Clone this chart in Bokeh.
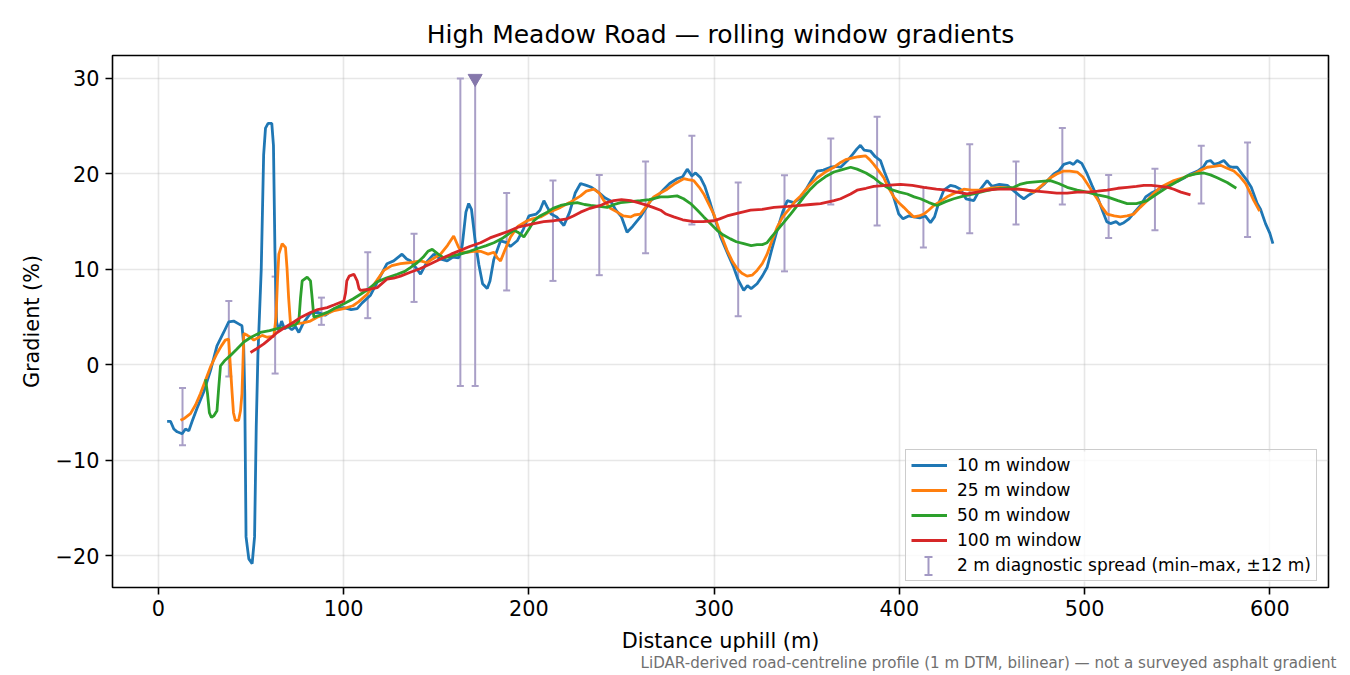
from bokeh.plotting import figure
from bokeh.models import (Range1d, FixedTicker, CustomJSTickFormatter, Legend, LegendItem,
                          Title, Whisker, TeeHead, ColumnDataSource, BoxAnnotation)
from bokeh.embed import file_html
from bokeh.resources import INLINE

FONT = "DejaVu Sans"

# (distance m, gradient %)
win10 = [(4.7, -5.9), (6.5, -5.9), (8.3, -6.7), (10.1, -7.0), (12.8, -7.2), (14.6, -6.7), (16.4, -6.9),
         (18.2, -5.9), (20.9, -4.5), (24.5, -2.8), (28.1, -0.6), (31.6, 2.0), (35.2, 3.4), (37.9, 4.5),
         (40.6, 4.6), (43.3, 4.3), (45.1, 4.1), (46.0, 2.2), (46.6, -3.0), (47.3, -18.0), (48.8, -20.3),
         (50.6, -20.8), (51.9, -18.0), (52.8, -6.5), (53.7, 1.0), (55.5, 10.0), (56.8, 22.0), (57.8, 24.8),
         (59.2, 25.3), (61.2, 25.3), (62.1, 23.0), (62.9, 12.0), (63.8, 4.5), (65.0, 3.6), (66.5, 4.6),
         (68.0, 3.8), (70.0, 4.0), (72.0, 3.7), (74.0, 4.0), (75.8, 3.4), (78.0, 4.3), (82.0, 5.4),
         (86.0, 5.5), (90.0, 5.2), (95.0, 5.9), (100.0, 6.0), (104.0, 5.8), (107.3, 5.9), (110.0, 6.5),
         (114.5, 7.3), (119.0, 9.0), (123.4, 10.6), (127.0, 10.9), (131.5, 11.6), (134.0, 11.1),
         (136.0, 10.9), (139.0, 10.2), (141.5, 9.5), (145.0, 10.8), (148.7, 11.6), (152.0, 11.1),
         (155.9, 10.9), (159.0, 11.3), (162.1, 11.2), (164.0, 12.5), (166.0, 16.0), (167.5, 16.9),
         (169.0, 16.3), (171.0, 13.0), (173.0, 10.5), (175.0, 8.5), (177.5, 8.0), (179.0, 8.8),
         (181.0, 11.0), (184.7, 13.0), (188.0, 12.8), (190.0, 12.4), (193.7, 13.0), (197.0, 14.2),
         (200.0, 15.6), (204.0, 15.8), (206.0, 16.2), (208.1, 17.2), (210.0, 16.5), (212.0, 15.8),
         (215.0, 15.5), (218.9, 14.6), (222.0, 16.0), (225.0, 18.0), (227.9, 19.0), (231.0, 18.8),
         (233.8, 18.6), (236.0, 18.3), (238.7, 17.9), (241.0, 17.5), (244.0, 17.2), (247.0, 16.2),
         (250.0, 15.5), (253.0, 13.9), (256.0, 14.5), (260.2, 15.5), (265.7, 17.2), (269.0, 17.6),
         (272.9, 18.4), (276.0, 19.0), (280.0, 19.5), (283.0, 19.7), (285.5, 20.5), (288.0, 19.8),
         (290.0, 20.1), (292.7, 19.6), (295.0, 18.7), (298.0, 16.9), (303.5, 13.4), (307.0, 11.8),
         (310.6, 10.2), (313.0, 8.9), (316.0, 7.8), (318.0, 8.3), (320.0, 8.0), (323.2, 8.5),
         (326.0, 9.3), (328.6, 10.2), (331.0, 12.0), (334.0, 14.1), (337.0, 16.0), (339.5, 17.2),
         (343.0, 17.0), (346.6, 17.5), (350.0, 18.5), (353.0, 19.5), (355.7, 20.3), (359.0, 20.4),
         (362.9, 20.7), (366.0, 20.8), (368.3, 20.7), (372.0, 21.4), (375.0, 22.1), (377.0, 22.6),
         (379.0, 23.0), (381.0, 22.5), (384.4, 22.4), (387.0, 21.8), (389.8, 21.4), (392.0, 20.2),
         (395.2, 18.6), (397.5, 17.2), (399.7, 15.8), (402.0, 15.3), (405.0, 15.6), (407.8, 15.5),
         (411.0, 15.4), (414.0, 15.6), (416.8, 14.9), (419.0, 15.5), (421.0, 16.8), (424.0, 18.3),
         (427.6, 18.8), (430.0, 18.7), (433.0, 18.4), (436.0, 17.4), (440.2, 17.2), (443.0, 18.2),
         (447.4, 19.3), (450.0, 18.7), (454.0, 18.9), (458.3, 18.8), (462.0, 18.2), (465.0, 17.7),
         (467.2, 17.4), (470.0, 17.8), (474.4, 18.3), (478.0, 18.9), (483.4, 20.0), (486.0, 20.3),
         (488.8, 21.0), (492.0, 21.2), (494.0, 21.0), (496.0, 21.4), (498.5, 21.1), (501.4, 20.0),
         (504.0, 18.8), (507.7, 17.2), (510.0, 16.0), (512.0, 15.0), (514.0, 14.8), (517.0, 15.0),
         (519.0, 14.7), (521.2, 14.9), (524.0, 15.3), (527.0, 16.0), (530.2, 16.7), (533.0, 17.6),
         (536.0, 18.0), (539.2, 18.3), (542.0, 18.6), (545.0, 18.8), (548.2, 19.1), (551.0, 19.3),
         (554.0, 19.6), (557.2, 20.0), (561.0, 20.3), (564.0, 20.7), (566.0, 21.3), (568.0, 21.4),
         (570.0, 21.0), (572.0, 21.1), (575.2, 21.4), (578.0, 20.8), (580.0, 20.7), (582.4, 20.7),
         (585.0, 20.0), (587.8, 19.3), (590.0, 18.6), (593.2, 16.9), (595.0, 16.3), (597.7, 14.8),
         (600.0, 13.8), (601.7, 12.7)]

win25 = [(11.9, -5.8), (14.0, -5.6), (17.3, -5.1), (20.0, -4.2), (22.7, -3.0), (25.0, -1.8), (28.1, -0.2),
         (31.6, 1.2), (34.0, 2.0), (36.1, 2.6), (37.9, 2.7), (38.8, 0.0), (39.8, -3.0), (40.5, -5.0),
         (41.5, -5.8), (43.3, -5.8), (44.3, -4.8), (45.1, -3.0), (45.6, 0.0), (46.1, 3.3), (48.0, 3.1),
         (49.7, 2.9), (51.5, 2.6), (53.3, 2.8), (56.0, 3.1), (58.7, 2.9), (62.3, 3.0), (63.5, 5.0),
         (64.3, 9.0), (65.0, 11.6), (66.8, 12.7), (68.6, 12.3), (69.4, 10.2), (70.3, 7.0), (71.3, 4.3),
         (74.0, 4.3), (78.0, 4.4), (82.0, 4.6), (85.7, 5.0), (90.0, 5.3), (95.0, 5.7), (100.0, 5.9),
         (105.0, 6.2), (108.0, 6.6), (112.7, 7.4), (117.0, 8.6), (121.7, 9.9), (126.0, 10.4),
         (130.7, 10.6), (135.0, 10.7), (141.5, 10.9), (145.0, 10.7), (148.0, 11.1), (152.3, 11.6),
         (156.0, 12.5), (159.4, 13.5), (162.1, 12.3), (164.0, 11.8), (166.6, 11.8), (170.0, 11.9),
         (173.9, 11.9), (178.0, 11.6), (181.1, 11.8), (183.0, 11.2), (184.7, 10.9), (187.0, 12.0),
         (190.1, 13.4), (194.0, 14.5), (199.1, 15.1), (202.0, 15.3), (206.3, 15.5), (211.0, 16.0),
         (217.1, 16.5), (222.0, 17.0), (227.9, 17.7), (231.0, 18.2), (235.1, 18.4), (238.0, 18.0),
         (240.5, 17.2), (244.0, 16.4), (247.7, 16.0), (251.0, 15.6), (254.9, 15.5), (257.0, 15.7),
         (260.2, 15.8), (263.0, 16.5), (267.4, 17.6), (271.0, 18.0), (274.7, 18.4), (279.0, 19.0),
         (283.6, 19.5), (286.0, 19.4), (289.0, 19.3), (292.0, 18.6), (294.4, 17.9), (297.0, 16.9),
         (299.8, 15.8), (303.0, 14.0), (307.0, 12.0), (310.0, 10.8), (312.4, 10.1), (315.0, 9.6),
         (317.8, 9.3), (320.5, 9.4), (323.2, 9.9), (326.0, 10.6), (328.6, 11.6), (331.0, 12.9),
         (334.0, 14.4), (337.0, 15.5), (341.3, 16.5), (344.0, 17.2), (346.7, 17.7), (351.0, 18.7),
         (355.7, 19.6), (360.0, 20.2), (364.7, 20.7), (368.3, 21.2), (371.0, 21.5), (375.4, 21.7),
         (378.0, 21.8), (381.7, 21.9), (384.0, 21.5), (386.2, 21.0), (389.0, 20.3), (391.6, 19.6),
         (394.0, 18.6), (397.0, 17.6), (399.6, 17.0), (402.4, 16.5), (405.0, 16.0), (407.8, 15.5),
         (410.5, 15.6), (413.2, 15.8), (415.8, 16.2), (418.6, 16.7), (422.0, 17.1), (425.8, 17.6),
         (430.0, 18.0), (434.8, 18.4), (439.0, 18.3), (443.8, 18.3), (449.0, 18.5), (454.6, 18.6),
         (460.0, 18.5), (465.4, 18.4), (469.0, 18.3), (472.6, 18.1), (477.0, 18.8), (481.6, 19.6),
         (485.0, 20.0), (488.8, 20.3), (492.0, 20.3), (496.0, 20.2), (499.0, 19.7), (501.4, 19.0),
         (504.0, 18.2), (506.8, 17.4), (509.5, 16.5), (512.2, 15.8), (516.0, 15.6), (519.4, 15.5),
         (523.0, 15.6), (526.6, 15.8), (530.0, 16.5), (533.8, 17.2), (537.0, 17.9), (541.0, 18.6),
         (545.0, 19.0), (548.2, 19.3), (553.0, 19.6), (559.0, 20.0), (563.0, 20.4), (566.2, 20.7),
         (570.0, 20.8), (573.4, 20.9), (577.0, 20.6), (580.6, 20.3), (584.0, 19.7), (586.9, 19.0),
         (589.0, 18.2), (591.4, 17.2), (594.5, 16.1)]

win50 = [(25.4, -1.5), (26.5, -3.0), (27.5, -5.0), (28.6, -5.5), (30.0, -5.3), (31.6, -4.8), (32.5, -2.5),
         (33.5, -0.1), (36.0, 0.5), (38.9, 1.0), (42.0, 1.6), (46.1, 2.4), (50.0, 2.9), (55.1, 3.4),
         (60.0, 3.6), (64.1, 3.8), (68.0, 3.9), (71.3, 4.1), (74.0, 4.2), (75.8, 4.6), (76.7, 7.0),
         (77.6, 8.8), (80.3, 9.2), (82.1, 8.8), (83.0, 7.0), (83.9, 5.0), (87.0, 5.2), (91.1, 5.5),
         (95.0, 5.9), (100.1, 6.4), (105.0, 6.9), (109.1, 7.4), (113.0, 7.9), (118.1, 8.7), (123.0, 9.1),
         (128.9, 9.5), (133.0, 9.8), (136.0, 10.2), (139.7, 10.7), (143.0, 11.3), (145.5, 11.9),
         (147.8, 12.1), (151.0, 11.6), (154.1, 11.2), (158.0, 11.4), (163.0, 11.6), (168.0, 11.9),
         (173.9, 12.3), (177.0, 12.5), (181.1, 12.8), (186.0, 13.3), (191.9, 14.1), (194.0, 13.9),
         (197.3, 13.4), (200.0, 14.2), (202.7, 15.1), (206.0, 15.6), (209.9, 16.0), (213.0, 16.4),
         (217.1, 16.7), (222.0, 16.9), (226.1, 17.0), (230.0, 16.8), (233.3, 16.7), (238.0, 16.6),
         (242.3, 16.5), (246.0, 16.8), (249.5, 17.0), (255.0, 17.1), (260.2, 17.2), (265.0, 17.3),
         (271.1, 17.6), (275.0, 17.6), (280.0, 17.7), (283.5, 17.4), (287.3, 16.9), (291.0, 16.2),
         (294.4, 15.5), (298.0, 14.8), (301.6, 14.1), (305.0, 13.6), (308.8, 13.2), (312.0, 12.9),
         (316.0, 12.7), (320.0, 12.5), (323.2, 12.6), (326.0, 12.6), (328.6, 12.8), (331.0, 13.4),
         (334.0, 14.1), (337.5, 14.9), (341.3, 15.8), (345.0, 16.7), (348.5, 17.6), (352.0, 18.4),
         (355.7, 19.1), (360.0, 19.7), (364.7, 20.2), (368.3, 20.4), (373.7, 20.7), (377.2, 20.5),
         (382.0, 20.1), (386.2, 19.6), (390.0, 19.0), (395.2, 18.4), (400.0, 18.1), (404.3, 17.9),
         (408.0, 17.6), (411.4, 17.4), (416.0, 17.0), (420.4, 16.7), (425.0, 17.1), (429.4, 17.4),
         (435.0, 17.7), (440.2, 17.9), (446.0, 18.2), (451.0, 18.4), (456.0, 18.5), (461.8, 18.6),
         (465.0, 18.9), (469.0, 19.1), (475.0, 19.2), (481.6, 19.3), (486.0, 19.0), (490.6, 18.6),
         (496.0, 18.3), (501.4, 18.1), (507.0, 17.8), (512.2, 17.6), (518.0, 17.2), (523.0, 16.9),
         (528.0, 16.9), (533.8, 17.2), (539.0, 17.9), (544.6, 18.6), (550.0, 19.2), (555.4, 19.8),
         (560.0, 20.0), (564.4, 20.1), (568.0, 19.9), (571.6, 19.6), (577.0, 19.1), (581.9, 18.5)]

win100 = [(49.7, 1.3), (53.0, 1.7), (56.9, 2.2), (60.0, 2.7), (64.1, 3.4), (68.0, 3.9), (73.1, 4.5),
          (77.0, 5.0), (82.1, 5.5), (86.0, 5.8), (91.1, 6.0), (95.0, 6.3), (100.1, 6.7), (101.0, 7.5),
          (101.7, 8.8), (103.0, 9.3), (105.5, 9.5), (107.3, 8.8), (108.3, 8.0), (109.1, 7.8), (113.0, 7.9),
          (118.1, 8.1), (123.5, 9.0), (127.0, 9.1), (130.7, 9.3), (136.0, 9.7), (141.5, 10.1),
          (147.0, 10.6), (152.3, 11.1), (158.0, 11.6), (163.0, 12.0), (168.0, 12.4), (173.9, 12.8),
          (179.0, 13.3), (184.7, 13.7), (189.0, 14.0), (193.7, 14.4), (198.0, 14.6), (202.7, 14.8),
          (208.0, 15.0), (213.5, 15.1), (217.0, 15.2), (220.7, 15.3), (224.0, 15.6), (227.9, 16.0),
          (233.0, 16.4), (238.7, 16.7), (242.0, 17.0), (245.8, 17.2), (250.0, 17.3), (254.9, 17.2),
          (259.0, 17.0), (263.9, 16.7), (267.0, 16.5), (271.1, 16.2), (274.0, 15.8), (278.2, 15.5),
          (283.0, 15.2), (289.0, 15.0), (294.0, 15.0), (299.8, 15.1), (303.0, 15.3), (307.0, 15.6),
          (313.0, 15.9), (319.7, 16.2), (326.0, 16.3), (332.3, 16.5), (340.0, 16.6), (346.7, 16.7),
          (352.0, 16.8), (357.5, 16.9), (364.7, 17.2), (368.3, 17.4), (373.7, 17.9), (377.2, 18.3),
          (382.0, 18.5), (386.2, 18.7), (393.0, 18.8), (400.6, 18.9), (407.0, 18.8), (413.2, 18.6),
          (420.0, 18.4), (425.8, 18.3), (431.0, 18.1), (436.6, 17.9), (442.0, 18.1), (447.4, 18.3),
          (453.0, 18.4), (458.3, 18.4), (464.0, 18.4), (469.0, 18.3), (474.0, 18.2), (479.8, 18.1),
          (485.0, 18.0), (490.6, 18.0), (496.0, 18.1), (501.4, 18.1), (507.0, 18.2), (512.2, 18.3),
          (518.0, 18.5), (523.0, 18.6), (528.0, 18.7), (532.0, 18.8), (536.0, 18.8), (541.0, 18.7),
          (545.0, 18.6), (548.2, 18.4), (552.0, 18.1), (557.2, 17.8)]

# 2 m diagnostic spread: centre, min, max
spread_x = [13, 38, 63, 88, 113, 138, 163, 171, 188, 213, 238, 263, 288, 313, 338, 363, 388, 413, 438,
            463, 488, 513, 538, 563, 588]
spread_lo = [-8.4, -1.2, -0.9, 4.2, 4.9, 6.6, -2.2, -2.2, 7.8, 8.8, 9.4, 11.7, 14.7, 5.1, 9.8, 16.8,
             14.6, 12.3, 13.8, 14.7, 16.8, 13.3, 14.1, 16.9, 13.4]
spread_hi = [-2.4, 6.7, 9.25, 7.05, 11.8, 13.75, 30.0, 30.0, 18.0, 19.3, 19.9, 21.3, 24.0, 19.1, 19.85,
             23.7, 26.0, 18.6, 23.1, 21.3, 24.8, 19.9, 20.55, 22.95, 23.3]
clip_x = [171]
clip_y = [30]

x_ticks = [0, 100, 200, 300, 400, 500, 600]
y_ticks = [-20, -10, 0, 10, 20, 30]

series = [
    ("10 m window", win10, "#1f77b4"),
    ("25 m window", win25, "#ff7f0e"),
    ("50 m window", win50, "#2ca02c"),
    ("100 m window", win100, "#d62728"),
]
spread_color = "#a99fc7"

p = figure(width=1350, height=675, x_range=Range1d(-24.8, 631.7), y_range=Range1d(-23.3, 32.4),
           output_backend="svg", toolbar_location=None,
           min_border_left=112, min_border_right=22, min_border_top=55, min_border_bottom=88)
p.title.text = "High Meadow Road \u2014 rolling window gradients"
p.title.align = "center"
p.title.text_font = FONT
p.title.text_font_size = "25px"
p.title.text_font_style = "normal"
p.title.text_color = "black"
p.title.standoff = 13
p.background_fill_color = "white"
p.border_fill_color = "white"
p.outline_line_color = "black"
p.outline_line_width = 1.6
p.outline_line_alpha = 1.0

p.xaxis.ticker = FixedTicker(ticks=x_ticks)
p.yaxis.ticker = FixedTicker(ticks=y_ticks)
p.xgrid.ticker = FixedTicker(ticks=x_ticks)
p.ygrid.ticker = FixedTicker(ticks=y_ticks)
p.grid.grid_line_color = "#b0b0b0"
p.grid.grid_line_alpha = 0.3
p.grid.grid_line_width = 1.6

p.xaxis.axis_label = "Distance uphill (m)"
p.yaxis.axis_label = "Gradient (%)"
for ax in (p.xaxis[0], p.yaxis[0]):
    ax.axis_line_color = None
    ax.major_tick_line_color = "black"
    ax.major_tick_line_width = 1.6
    ax.major_tick_out = 7
    ax.major_tick_in = 0
    ax.minor_tick_line_color = None
    ax.major_label_text_font = FONT
    ax.major_label_text_font_size = "20.8px"
    ax.major_label_text_color = "black"
    ax.axis_label_text_font = FONT
    ax.axis_label_text_font_size = "20.8px"
    ax.axis_label_text_font_style = "normal"
    ax.axis_label_text_color = "black"
    ax.formatter = CustomJSTickFormatter(code="return tick < 0 ? '\u2212' + (-tick) : String(tick);")
p.xaxis.major_label_standoff = 5
p.xaxis.axis_label_standoff = 10
p.yaxis.major_label_standoff = 6
p.yaxis.axis_label_standoff = 9

# spread bars under the lines
p.segment(x0=spread_x, y0=spread_lo, x1=spread_x, y1=spread_hi, line_color=spread_color, line_width=2)
p.scatter(x=spread_x + spread_x, y=spread_lo + spread_hi, marker="dash", size=7,
          line_color=spread_color, line_width=2)

items = []
for label, pts, color in series:
    r = p.line(x=[a for a, _ in pts], y=[b for _, b in pts], line_color=color, line_width=2.8)
    items.append(LegendItem(label=label, renderers=[r]))

p.scatter(x=clip_x, y=clip_y, marker="inverted_triangle", size=14, fill_color="#8577ab",
          line_color="#8577ab")

dummy = p.scatter(x=[], y=[], alpha=0)
items.append(LegendItem(label="2 m diagnostic spread (min\u2013max, \u00b112 m)", renderers=[dummy]))

# translucent legend face drawn separately so the errorbar symbol can sit above it
p.add_layout(BoxAnnotation(left=793, right=1204, bottom=6, top=136,
                           left_units="screen", right_units="screen",
                           bottom_units="screen", top_units="screen",
                           fill_color="white", fill_alpha=0.8, line_color=None, level="overlay"))

legend = Legend(items=items, location=(793, 6), margin=0, padding=5, spacing=5,
                glyph_width=36, glyph_height=20, label_height=20, label_standoff=10,
                label_text_font=FONT, label_text_font_size="17px", label_text_color="black",
                border_line_color="#cccccc", border_line_width=1.6, border_line_alpha=1.0,
                background_fill_alpha=0)
p.add_layout(legend, "center")

sym = ColumnDataSource(data=dict(base=[816], lower=[12.5], upper=[30.5]))
p.add_layout(Whisker(source=sym, base="base", lower="lower", upper="upper", dimension="height",
                     base_units="screen", lower_units="screen", upper_units="screen",
                     line_color="#a399c4", line_width=2, level="overlay",
                     lower_head=TeeHead(size=8, line_color="#a399c4", line_width=2),
                     upper_head=TeeHead(size=8, line_color="#a399c4", line_width=2)))

note = Title(text="LiDAR-derived road-centreline profile (1 m DTM, bilinear) \u2014 not a surveyed asphalt gradient",
             align="right", text_font=FONT, text_font_size="15.1px", text_font_style="normal",
             text_color="#707070", standoff=-8, offset=-8)
p.add_layout(note, "below")

open("out.html", "w", encoding="utf-8").write(file_html(p, INLINE))
